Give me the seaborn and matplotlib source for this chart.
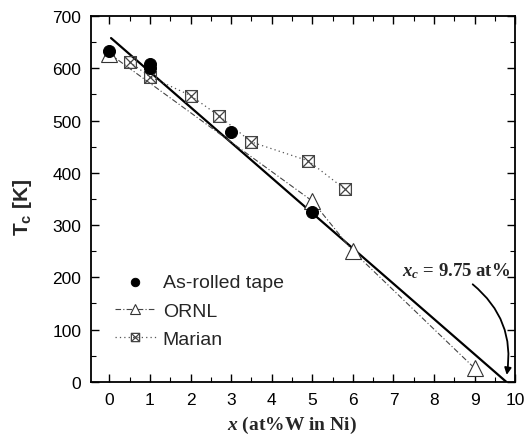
import numpy as np
import pandas as pd
import matplotlib
matplotlib.use("Agg")
import matplotlib.pyplot as plt
import seaborn as sns
from matplotlib.path import Path
from matplotlib.ticker import MultipleLocator

# --- data ---
rolled_x = [0, 1, 1, 3, 5]
rolled_tc = [633, 609, 601, 479, 326]

ornl_x = [0, 5, 6, 9]
ornl_tc = [628, 346, 250, 26]

marian_x = [0.5, 1.0, 2.0, 2.7, 3.5, 4.9, 5.8]
marian_tc = [612, 584, 548, 509, 459, 423, 369]

# linear fit drawn as a solid line
fit_x = [0.04, 9.78]
fit_tc = [658, 0]

sns.set_theme(style="ticks")
plt.rcParams['font.family'] = ['Liberation Sans', 'DejaVu Sans']
plt.rcParams['mathtext.fontset'] = 'custom'
plt.rcParams['mathtext.rm'] = 'Liberation Serif'
plt.rcParams['mathtext.it'] = 'Liberation Serif:italic'
plt.rcParams['mathtext.bf'] = 'Liberation Serif:bold'
plt.rcParams['mathtext.bfit'] = 'Liberation Serif:italic:bold'

# square with a cross inside (boxed x marker)
box_x = Path([(-1, -1), (1, -1), (1, 1), (-1, 1), (-1, -1),
              (-1, -1), (1, 1), (-1, 1), (1, -1)],
             [Path.MOVETO, Path.LINETO, Path.LINETO, Path.LINETO, Path.LINETO,
              Path.MOVETO, Path.LINETO, Path.MOVETO, Path.LINETO])

fig = plt.figure(figsize=(5.3, 4.39), dpi=100)
ax = fig.add_axes([0.172, 0.128, 0.800, 0.833])

sns.lineplot(x=fit_x, y=fit_tc, ax=ax, color='black', lw=1.6, zorder=2)
sns.lineplot(x=ornl_x, y=ornl_tc, ax=ax, color='#444444', lw=0.8,
             linestyle=(0, (5, 2, 1, 2)), marker='^', markersize=11,
             markerfacecolor='white', markeredgecolor='#333333',
             markeredgewidth=0.8, label='ORNL', zorder=3)
sns.lineplot(x=marian_x, y=marian_tc, ax=ax, color='#555555', lw=0.9,
             linestyle=(0, (1, 2.5)), marker=box_x, markersize=8.5,
             markerfacecolor='none', markeredgewidth=0.9,
             markeredgecolor='#444444', label='Marian', zorder=3)
sns.scatterplot(x=rolled_x, y=rolled_tc, ax=ax, color='black', s=75,
                edgecolor='black', label='As-rolled tape', zorder=4)

ax.set_xlim(-0.45, 10)
ax.set_ylim(0, 700)
ax.xaxis.set_major_locator(MultipleLocator(1))
ax.xaxis.set_minor_locator(MultipleLocator(0.5))
ax.yaxis.set_major_locator(MultipleLocator(100))
ax.yaxis.set_minor_locator(MultipleLocator(50))
ax.tick_params(which='both', direction='in', top=True, right=True,
               labeltop=False, labelright=False, colors='black')
ax.tick_params(which='major', length=6, width=1.0, labelsize=12.5, pad=7)
ax.tick_params(which='minor', length=3.5, width=0.8)
for sp in ax.spines.values():
    sp.set_linewidth(1.3)
    sp.set_color('black')

ax.set_xlabel(r'$\mathbfit{x}$ (at%W in Ni)', fontsize=14, fontweight='bold',
              family='Liberation Serif')
ax.xaxis.set_label_coords(0.474, -0.088)
ax.set_ylabel(r'T$_{\mathregular{c}}$ [K]', fontsize=15, fontweight='bold')
ax.yaxis.set_label_coords(-0.134, 0.48)

ax.annotate('', xy=(9.78, 8), xytext=(8.9, 190),
            arrowprops=dict(arrowstyle='-|>', color='black', lw=1.3,
                            connectionstyle='arc3,rad=-0.3',
                            mutation_scale=10))
ax.text(7.2, 203, r'$\mathbfit{x}_{\mathbfit{c}}$ = 9.75 at%', fontsize=13.5,
        fontweight='bold', family='Liberation Serif')

handles, labels = ax.get_legend_handles_labels()
order = [labels.index('As-rolled tape'), labels.index('ORNL'), labels.index('Marian')]
ax.legend([handles[i] for i in order], [labels[i] for i in order],
          loc='lower left', bbox_to_anchor=(0.015, 0.045), frameon=False,
          fontsize=14, handlelength=2.1, handletextpad=0.35,
          labelspacing=0.55, markerscale=0.7)

fig.savefig('out.png', dpi=100)
